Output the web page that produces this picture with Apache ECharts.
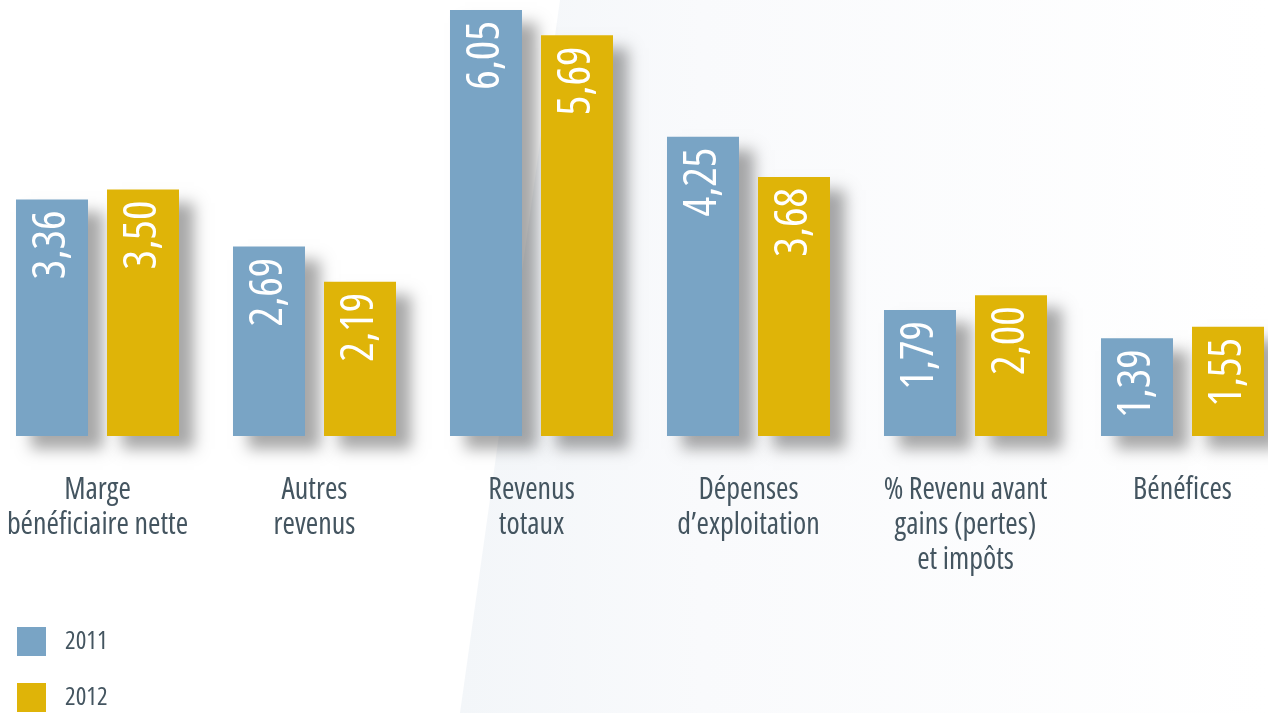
<!DOCTYPE html>
<html><head><meta charset="utf-8">
<script src="https://cdn.jsdelivr.net/npm/echarts@6/dist/echarts.min.js"></script>
<style>html,body{margin:0;padding:0;background:#fff}#c{width:1268px;height:713px}</style>
</head><body><div id="c"></div>
<script>
const categories = ["Marge\nbénéficiaire nette", "Autres\nrevenus", "Revenus\ntotaux", "Dépenses\nd’exploitation", "% Revenu avant\ngains (pertes)\net impôts", "Bénéfices"];
const values2011 = [3.36, 2.69, 6.05, 4.25, 1.79, 1.39];
const values2012 = [3.50, 2.19, 5.69, 3.68, 2.00, 1.55];
const seriesNames = ["2011", "2012"];

const FAMILY = "'Open Sans', 'DejaVu Sans Condensed', sans-serif";
const STRETCH = 'condensed';   // picks the condensed width of Open Sans
const TEXT = '#445560';
const fmt = p => p.value.toFixed(2).replace('.', ',');
const label = {
  show: true, position: 'insideTop', rotate: 90, align: 'right', verticalAlign: 'middle',
  distance: 11, color: '#fff', fontFamily: FAMILY, fontStyle: STRETCH, fontWeight: 'normal', fontSize: 46, formatter: fmt
};
const shadow = { shadowBlur: 14, shadowColor: 'rgba(0,0,0,0.34)', shadowOffsetX: 15, shadowOffsetY: 13 };

const chart = echarts.init(document.getElementById('c'), null, { renderer: 'canvas' });
chart.setOption({
  backgroundColor: '#fff',
  animation: false,
  graphic: [{
    type: 'polygon', z: -10, silent: true,
    shape: { points: [[560, 0], [1268, 0], [1268, 713], [460, 713]] },
    style: { fill: new echarts.graphic.LinearGradient(0, 0, 1, 0, [
      { offset: 0, color: '#f3f6f9' }, { offset: 0.3, color: '#f9fafc' }, { offset: 1, color: '#ffffff' }]) }
  }],
  grid: { left: -11, right: -23, top: 10, bottom: 277, containLabel: false, outerBoundsMode: 'none' },
  legend: {
    orient: 'vertical', left: 17, top: 627, padding: 0, itemWidth: 29, itemHeight: 29, itemGap: 27,
    icon: 'rect', data: seriesNames,
    textStyle: { color: TEXT, fontFamily: FAMILY, fontStyle: STRETCH, fontWeight: 'normal', fontSize: 25, padding: [0, 0, 0, 14] }
  },
  xAxis: {
    type: 'category', data: categories,
    axisLine: { show: false }, axisTick: { show: false },
    axisLabel: { interval: 0, margin: 37, color: TEXT, fontFamily: FAMILY, fontStyle: STRETCH, fontWeight: 500, fontSize: 30, lineHeight: 35, verticalAlign: 'top' }
  },
  yAxis: { type: 'value', min: 0, max: 6.05, show: false, splitLine: { show: false } },
  series: [
    { name: seriesNames[0], type: 'bar', data: values2011, barWidth: 72, barGap: '26.4%',
      itemStyle: Object.assign({ color: '#79a4c5' }, shadow), label: label },
    { name: seriesNames[1], type: 'bar', data: values2012, barWidth: 72, barGap: '26.4%',
      itemStyle: Object.assign({ color: '#dfb408' }, shadow), label: label }
  ]
});
</script></body></html>
